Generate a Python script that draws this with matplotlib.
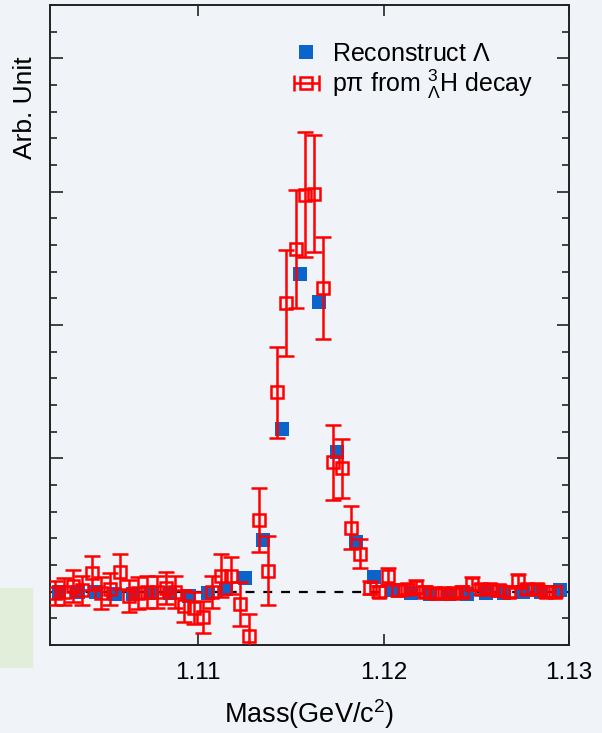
import numpy as np
import matplotlib
matplotlib.use('Agg')
import matplotlib.pyplot as plt
from matplotlib.patches import Rectangle

plt.rcParams['font.family'] = ['Liberation Sans', 'DejaVu Sans']
plt.rcParams['mathtext.fontset'] = 'custom'
plt.rcParams['mathtext.rm'] = 'Liberation Sans'
plt.rcParams['mathtext.it'] = 'Liberation Sans'
plt.rcParams['mathtext.bf'] = 'Liberation Sans:bold'

# ---- data (arb. units; baseline = 0) ----
# reconstructed Lambda, 1 MeV bins
lam_x = 1.1025 + 0.001 * np.arange(28)
lam_y = [0.0, 0.0, 0.0, -0.02, -0.02, -0.01, -0.01, -0.03, -0.01, 0.02,
         0.10, 0.39, 1.22, 2.38, 2.17, 1.045, 0.37, 0.11, 0.015, -0.01,
         -0.02, -0.02, -0.02, -0.01, -0.01, 0.0, 0.0, 0.01]

# p pi from hypertriton decay, 0.5 MeV bins
hyp_x = 1.10225 + 0.0005 * np.arange(55)
hyp_y = [-0.01, 0.0, 0.045, 0.01, 0.14, -0.01, 0.02, 0.15, -0.03, -0.01,
         0.0, 0.0, 0.03, 0.0, -0.11, -0.12, -0.19, 0.0, 0.12, 0.12,
         -0.09, -0.33,
         0.534, 0.158, 1.496, 2.165, 2.571, 2.977, 2.985, 2.278, 0.97, 0.925,
         0.48, 0.286,
         0.03, 0.0, 0.12, 0.01, 0.02, 0.035, 0.0, -0.01, -0.01, -0.01,
         0.0, 0.06, 0.02, 0.02, 0.01, 0.0, 0.08, 0.02, 0.02, 0.0, 0.0]
hyp_err = [0.09, 0.10, 0.12, 0.11, 0.13, 0.12, 0.12, 0.13, 0.12, 0.12,
           0.12, 0.12, 0.12, 0.12, 0.12, 0.12, 0.12, 0.12, 0.16, 0.14,
           0.165, 0.16,
           0.24, 0.26, 0.34, 0.40, 0.44, 0.47, 0.44, 0.38, 0.28, 0.22,
           0.16, 0.11,
           0.05, 0.04, 0.06, 0.04, 0.04, 0.05, 0.04, 0.04, 0.04, 0.04,
           0.04, 0.05, 0.04, 0.04, 0.04, 0.04, 0.05, 0.04, 0.04, 0.04, 0.04]

x_ticks = [1.11, 1.12, 1.13]
x_ticklabels = ['1.11', '1.12', '1.13']

BG = '#f0f4f9'
BLUE = '#0b63cc'
RED = '#ff0000'
INK = '#222222'

fig = plt.figure(figsize=(6.02, 7.33), dpi=100, facecolor=BG)
ax = fig.add_axes([50/602, 1 - 645/733, 519/602, 640/733])
ax.set_facecolor(BG)

# little green block at the left edge
fig.patches.append(Rectangle((0, 1 - 667/733), 32/602, 79/733,
                             transform=fig.transFigure, color='#e2eed9', zorder=0))

ax.axhline(0, color='black', lw=1.6, ls=(0, (4, 4)), zorder=1)

ax.plot(lam_x, lam_y, ls='none', marker='s', ms=9.5, color=BLUE, mec=BLUE,
        mew=0, zorder=2, label=r'Reconstruct $\Lambda$')
ebkw = dict(fmt='s', ms=8.5, mfc='none', mec=RED, mew=1.8, ecolor=RED,
            elinewidth=1.8, capsize=5.5, capthick=1.8)
ax.errorbar(hyp_x, hyp_y, yerr=hyp_err, zorder=3, **ebkw)
# legend proxy: horizontal bar with caps like the original key
ax.errorbar([np.nan], [np.nan], xerr=[1], label=r'p$\pi$ from ${}^{3}_{\Lambda}$H decay',
            **ebkw)

ax.set_xlim(1.102, 1.13)
ax.set_ylim(-0.4, 4.4)
ax.set_xticks(x_ticks)
ax.set_xticklabels(x_ticklabels)
ax.set_yticks([0, 1, 2, 3, 4])
ax.set_yticks(np.arange(-0.4, 4.41, 0.2), minor=True)
ax.set_yticklabels([])
ax.tick_params(axis='both', which='both', direction='in', top=True, right=True,
               color=INK, width=1.2)
ax.tick_params(axis='x', which='major', length=8, labelsize=17.5, pad=12.5)
ax.tick_params(axis='y', which='major', length=9)
ax.tick_params(axis='y', which='minor', length=5)
ax.tick_params(axis='x', which='minor', bottom=False, top=False)
for sp in ax.spines.values():
    sp.set_color(INK)
    sp.set_linewidth(1.4)

ax.set_xlabel(r'Mass(GeV/c$^{2}$)', fontsize=19.5, labelpad=9)
ax.set_ylabel('Arb. Unit', fontsize=19)
ax.yaxis.set_label_coords(-0.025, 0.839)
ax.yaxis.label.set_va('bottom')

leg = ax.legend(loc='upper left', bbox_to_anchor=(280/602, 1 - 32/733),
                bbox_transform=fig.transFigure, frameon=False, fontsize=18,
                handlelength=1.3, handletextpad=0.4, labelspacing=0.05,
                borderaxespad=0, borderpad=0.4)

fig.savefig('out.png', dpi=100, facecolor=BG)
